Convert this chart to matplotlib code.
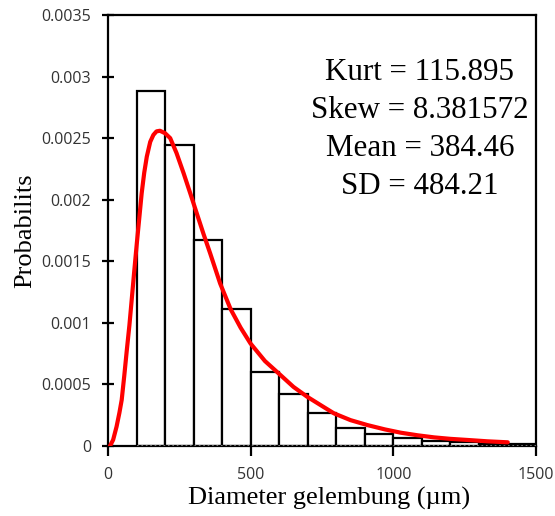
import matplotlib
matplotlib.use("Agg")
import matplotlib.pyplot as plt

bin_left = [100, 200, 300, 400, 500, 600, 700, 800, 900, 1000, 1100, 1200, 1300, 1400]
bin_height = [0.002885, 0.002444, 0.001675, 0.00111, 0.000604, 0.000422, 0.000267,
              0.000144, 0.000095, 0.000062, 0.000040, 0.000030, 0.000020, 0.000014]

curve_x = [7, 18, 30, 40, 48, 57, 66, 75, 83, 92, 101, 110, 118, 127, 136, 148, 159, 170,
           182, 200, 218, 240, 265, 290, 311, 335, 358, 393, 430, 465, 499, 550, 604, 650,
           698, 750, 792, 850, 909, 970, 1026, 1085, 1143, 1200, 1260, 1330, 1401]
curve_y = [0.0, 0.00005, 0.000157, 0.00027, 0.000374, 0.00057, 0.00078, 0.00098, 0.001186,
           0.00142, 0.001646, 0.00186, 0.002052, 0.00222, 0.00235, 0.00247, 0.002526,
           0.002555, 0.00256, 0.00254, 0.0025, 0.00238, 0.002215, 0.00204, 0.00189,
           0.00172, 0.001565, 0.00132, 0.00111, 0.00096, 0.000834, 0.000690, 0.000577,
           0.000480, 0.00040, 0.000325, 0.000265, 0.000210, 0.00017, 0.000135, 0.000108,
           0.000087, 0.00007, 0.000058, 0.000049, 0.000038, 0.00003]

stats_text = ["Kurt = 115.895", "Skew = 8.381572", "Mean = 384.46", "SD = 484.21"]
xticks = [0, 500, 1000, 1500]
yticks = [0, 0.0005, 0.001, 0.0015, 0.002, 0.0025, 0.003, 0.0035]
ytick_labels = ["0", "0.0005", "0.001", "0.0015", "0.002", "0.0025", "0.003", "0.0035"]

fig = plt.figure(figsize=(5.55, 5.16), dpi=100)
ax = fig.add_axes([108/555, 70/516, 428/555, 431/516])

ax.bar(bin_left, bin_height, width=100, align='edge', facecolor='white',
       edgecolor='black', linewidth=1.6, zorder=2)
ax.hlines(0, 100, 1500, colors='#888888', linestyles=':', linewidth=1.2, zorder=3)
ax.plot(curve_x, curve_y, color='#ff0000', linewidth=3, zorder=4,
        solid_capstyle='round', solid_joinstyle='round')

ax.set_xlim(0, 1500)
ax.set_ylim(0, 0.0035)
ax.set_xticks(xticks)
ax.set_xticklabels([str(t) for t in xticks])
ax.set_yticks(yticks)
ax.set_yticklabels(ytick_labels)

for s in ax.spines.values():
    s.set_linewidth(1.6)
    s.set_color('black')

ax.tick_params(axis='x', direction='out', length=7, width=1.6, pad=8,
               labelsize=11.5, labelcolor='#333333')
ax.tick_params(axis='y', direction='inout', length=8, width=1.6, pad=8,
               labelsize=11.5, labelcolor='#333333')
for lab in ax.get_xticklabels() + ax.get_yticklabels():
    lab.set_family('Open Sans')

ax.set_xlabel("Diameter gelembung (µm)", family='Liberation Serif', fontsize=19, labelpad=2)
ax.xaxis.set_label_coords(0.516, -0.095)
ax.set_ylabel("Probabilits", family='Liberation Serif', fontsize=19, labelpad=4)

y0 = 0.003037
dy = 0.000309
for i, t in enumerate(stats_text):
    ax.text(1093, y0 - i * dy, t, family='Liberation Serif', fontsize=22.3,
            ha='center', va='center', zorder=5)

fig.savefig("out.png", dpi=100)
